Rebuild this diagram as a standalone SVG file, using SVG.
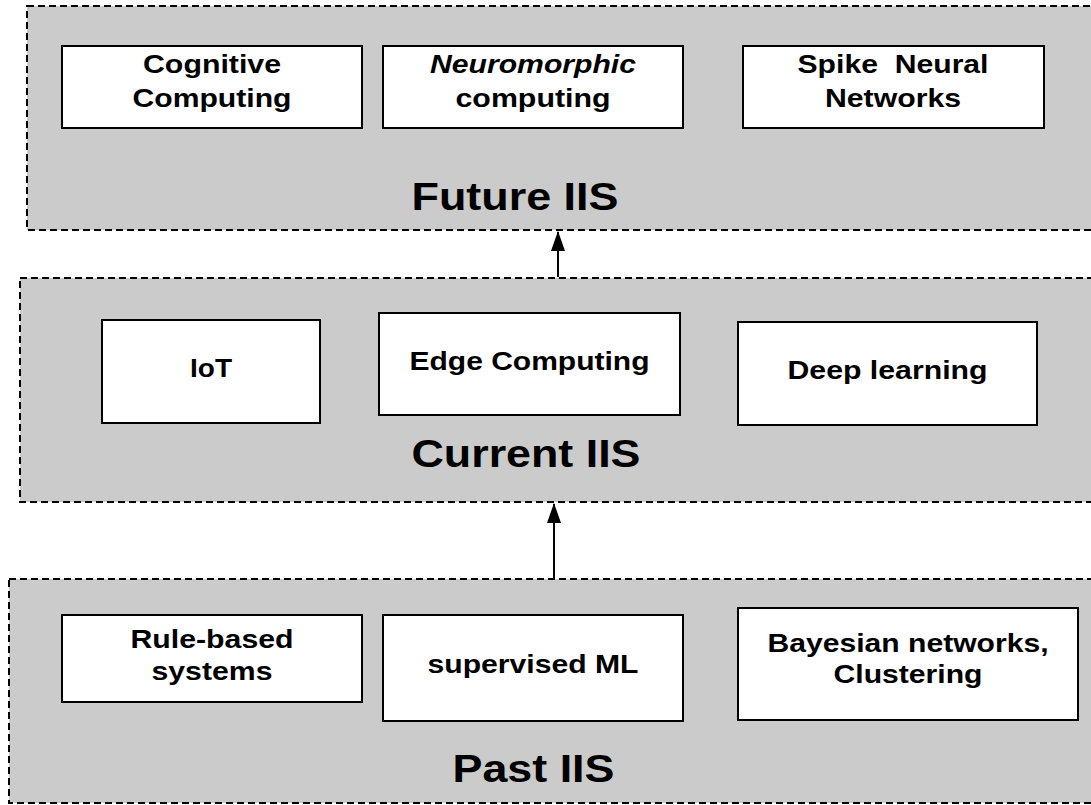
<svg xmlns="http://www.w3.org/2000/svg" width="1091" height="805" viewBox="0 0 1091 805">
  <style>
    .panel { fill: #cbcbcb; stroke: #000; stroke-width: 2; stroke-dasharray: 7 4; }
    .box { fill: #fff; stroke: #000; stroke-width: 2; }
    .lbl { font-family: "Liberation Sans", Arial, sans-serif; font-weight: bold; font-size: 26px; fill: #000; text-anchor: middle; }
    .ttl { font-family: "Liberation Sans", Arial, sans-serif; font-weight: bold; font-size: 38px; fill: #000; text-anchor: middle; }
    .it { font-style: italic; }
    .conn { stroke: #000; stroke-width: 2; fill: none; }
  </style>
  <defs>
    <marker id="head" viewBox="0 0 20 14" refX="19" refY="7" markerWidth="20" markerHeight="14" markerUnits="userSpaceOnUse" orient="auto">
      <path d="M0,0 L20,7 L0,14 Z" fill="#000"/>
    </marker>
  </defs>

  <rect width="1091" height="805" fill="#fff"/>

  <!-- Future tier -->
  <g id="future">
    <rect class="panel" x="27" y="6" width="1080" height="224"/>
    <text class="ttl" x="515" y="210" textLength="207" lengthAdjust="spacingAndGlyphs">Future IIS</text>
  </g>
  <g id="cognitive">
    <rect class="box" x="62" y="46" width="300" height="82"/>
    <text class="lbl" x="212" y="73" textLength="138" lengthAdjust="spacingAndGlyphs">Cognitive</text>
    <text class="lbl" x="212" y="107" textLength="159" lengthAdjust="spacingAndGlyphs">Computing</text>
  </g>
  <g id="neuromorphic">
    <rect class="box" x="383" y="46" width="300" height="82"/>
    <text class="lbl it" x="533" y="73" textLength="206" lengthAdjust="spacingAndGlyphs">Neuromorphic</text>
    <text class="lbl" x="533" y="107" textLength="155" lengthAdjust="spacingAndGlyphs">computing</text>
  </g>
  <g id="snn">
    <rect class="box" x="743" y="46" width="301" height="82"/>
    <text class="lbl" x="893" y="73" textLength="191" lengthAdjust="spacingAndGlyphs" xml:space="preserve">Spike  Neural</text>
    <text class="lbl" x="893" y="107" textLength="136" lengthAdjust="spacingAndGlyphs">Networks</text>
  </g>

  <!-- Current tier -->
  <g id="current">
    <rect class="panel" x="20" y="278" width="1090" height="224"/>
    <text class="ttl" x="526" y="467" textLength="229" lengthAdjust="spacingAndGlyphs">Current IIS</text>
  </g>
  <g id="iot">
    <rect class="box" x="102" y="320" width="218" height="103"/>
    <text class="lbl" x="211" y="377" textLength="42" lengthAdjust="spacingAndGlyphs">IoT</text>
  </g>
  <g id="edge">
    <rect class="box" x="379" y="313" width="301" height="102"/>
    <text class="lbl" x="529.5" y="370" textLength="240" lengthAdjust="spacingAndGlyphs">Edge Computing</text>
  </g>
  <g id="deep">
    <rect class="box" x="738" y="322" width="299" height="103"/>
    <text class="lbl" x="887.5" y="379" textLength="200" lengthAdjust="spacingAndGlyphs">Deep learning</text>
  </g>

  <!-- Past tier -->
  <g id="past">
    <rect class="panel" x="9" y="579" width="1100" height="224"/>
    <text class="ttl" x="533.5" y="782" textLength="162" lengthAdjust="spacingAndGlyphs">Past IIS</text>
  </g>
  <g id="rule">
    <rect class="box" x="62" y="615" width="300" height="87"/>
    <text class="lbl" x="212" y="648" textLength="163" lengthAdjust="spacingAndGlyphs">Rule-based</text>
    <text class="lbl" x="212" y="680" textLength="121" lengthAdjust="spacingAndGlyphs">systems</text>
  </g>
  <g id="supervised">
    <rect class="box" x="383" y="615" width="300" height="106"/>
    <text class="lbl" x="533" y="673" textLength="211" lengthAdjust="spacingAndGlyphs">supervised ML</text>
  </g>
  <g id="bayes">
    <rect class="box" x="738" y="608" width="340" height="112"/>
    <text class="lbl" x="908" y="652" textLength="281" lengthAdjust="spacingAndGlyphs">Bayesian networks,</text>
    <text class="lbl" x="908" y="683" textLength="149" lengthAdjust="spacingAndGlyphs">Clustering</text>
  </g>

  <!-- Connectors between tiers -->
  <g id="connectors">
    <line class="conn" x1="558" y1="277" x2="558" y2="232" marker-end="url(#head)"/>
    <line class="conn" x1="554" y1="579" x2="554" y2="504" marker-end="url(#head)"/>
  </g>
</svg>
